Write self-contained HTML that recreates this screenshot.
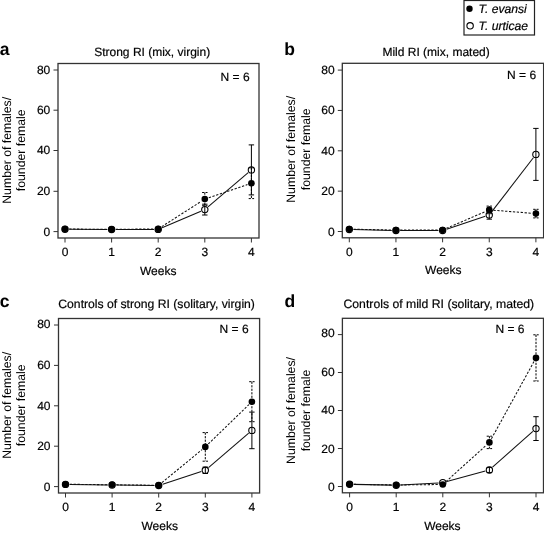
<!DOCTYPE html>
<html><head><meta charset="utf-8"><style>
html,body{margin:0;padding:0;background:#fff;width:544px;height:533px;overflow:hidden}
svg{display:block;will-change:transform}
text{font-family:"Liberation Sans",sans-serif;text-rendering:geometricPrecision;stroke:#000;stroke-width:0.2px}
</style></head><body>
<svg width="544" height="533" viewBox="0 0 544 533" font-family="'Liberation Sans', sans-serif" fill="#000">
<rect x="58" y="63.5" width="201" height="174.5" fill="none" stroke="#333" stroke-width="1.3"/>
<line x1="53.5" y1="231.6" x2="58" y2="231.6" stroke="#333" stroke-width="1"/>
<text x="50.3" y="236" font-size="12" text-anchor="end">0</text>
<line x1="53.5" y1="191.3" x2="58" y2="191.3" stroke="#333" stroke-width="1"/>
<text x="50.3" y="195" font-size="12" text-anchor="end">20</text>
<line x1="53.5" y1="150.5" x2="58" y2="150.5" stroke="#333" stroke-width="1"/>
<text x="50.3" y="154" font-size="12" text-anchor="end">40</text>
<line x1="53.5" y1="110.2" x2="58" y2="110.2" stroke="#333" stroke-width="1"/>
<text x="50.3" y="114" font-size="12" text-anchor="end">60</text>
<line x1="53.5" y1="70" x2="58" y2="70" stroke="#333" stroke-width="1"/>
<text x="50.3" y="74" font-size="12" text-anchor="end">80</text>
<line x1="65" y1="238" x2="65" y2="242.5" stroke="#333" stroke-width="1"/>
<text x="65" y="255.6" font-size="12" text-anchor="middle">0</text>
<line x1="111.6" y1="238" x2="111.6" y2="242.5" stroke="#333" stroke-width="1"/>
<text x="111.6" y="255.6" font-size="12" text-anchor="middle">1</text>
<line x1="158.2" y1="238" x2="158.2" y2="242.5" stroke="#333" stroke-width="1"/>
<text x="158.2" y="255.6" font-size="12" text-anchor="middle">2</text>
<line x1="204.8" y1="238" x2="204.8" y2="242.5" stroke="#333" stroke-width="1"/>
<text x="204.8" y="255.6" font-size="12" text-anchor="middle">3</text>
<line x1="251.4" y1="238" x2="251.4" y2="242.5" stroke="#333" stroke-width="1"/>
<text x="251.4" y="255.6" font-size="12" text-anchor="middle">4</text>
<text x="158.2" y="274.7" font-size="12" text-anchor="middle">Weeks</text>
<text x="94.2" y="55.6" font-size="12">Strong RI (mix, virgin)</text>
<text x="-0.3" y="54.6" font-size="17.5" font-weight="bold" style="stroke-width:0">a</text>
<text x="220.6" y="81" font-size="12">N = 6</text>
<text transform="translate(10.9,150.3) rotate(-90)" font-size="12.25" text-anchor="middle" style="stroke-width:0"><tspan x="0" y="0">Number of females/</tspan><tspan x="0" y="14.6">founder female</tspan></text>
<line x1="69.2" y1="229.23" x2="107.4" y2="229.47" stroke="#111" stroke-width="1.05"/>
<line x1="115.8" y1="229.49" x2="154" y2="229.41" stroke="#111" stroke-width="1.05"/>
<line x1="162.07" y1="227.76" x2="200.93" y2="211.24" stroke="#111" stroke-width="1.05"/>
<line x1="208" y1="206.88" x2="248.2" y2="172.62" stroke="#111" stroke-width="1.05"/>
<line x1="204.8" y1="204.2" x2="204.8" y2="215" stroke="#000" stroke-width="1"/>
<line x1="202.1" y1="204.2" x2="207.5" y2="204.2" stroke="#000" stroke-width="1"/>
<line x1="202.1" y1="215" x2="207.5" y2="215" stroke="#000" stroke-width="1"/>
<line x1="251.4" y1="144.9" x2="251.4" y2="194.9" stroke="#000" stroke-width="1"/>
<line x1="248.7" y1="144.9" x2="254.1" y2="144.9" stroke="#000" stroke-width="1"/>
<line x1="248.7" y1="194.9" x2="254.1" y2="194.9" stroke="#000" stroke-width="1"/>
<circle cx="65" cy="229.2" r="3.15" fill="none" stroke="#000" stroke-width="1.1"/>
<circle cx="111.6" cy="229.5" r="3.15" fill="none" stroke="#000" stroke-width="1.1"/>
<circle cx="158.2" cy="229.4" r="3.15" fill="none" stroke="#000" stroke-width="1.1"/>
<circle cx="204.8" cy="209.6" r="3.15" fill="none" stroke="#000" stroke-width="1.1"/>
<circle cx="251.4" cy="169.9" r="3.15" fill="none" stroke="#000" stroke-width="1.1"/>
<line x1="69.2" y1="229.04" x2="107.4" y2="229.36" stroke="#111" stroke-width="1.05" stroke-dasharray="2.3,1.6"/>
<line x1="115.8" y1="229.35" x2="154" y2="228.95" stroke="#111" stroke-width="1.05" stroke-dasharray="2.3,1.6"/>
<line x1="161.74" y1="226.64" x2="201.26" y2="201.36" stroke="#111" stroke-width="1.05" stroke-dasharray="2.3,1.6"/>
<line x1="208.77" y1="197.74" x2="247.43" y2="184.56" stroke="#111" stroke-width="1.05" stroke-dasharray="2.3,1.6"/>
<line x1="204.8" y1="192.5" x2="204.8" y2="205.7" stroke="#000" stroke-width="1" stroke-dasharray="2.2,1.3"/>
<line x1="202.1" y1="192.5" x2="207.5" y2="192.5" stroke="#000" stroke-width="1" stroke-dasharray="2.2,1.3"/>
<line x1="202.1" y1="205.7" x2="207.5" y2="205.7" stroke="#000" stroke-width="1" stroke-dasharray="2.2,1.3"/>
<line x1="251.4" y1="167.8" x2="251.4" y2="198.6" stroke="#000" stroke-width="1" stroke-dasharray="2.2,1.3"/>
<line x1="248.7" y1="167.8" x2="254.1" y2="167.8" stroke="#000" stroke-width="1" stroke-dasharray="2.2,1.3"/>
<line x1="248.7" y1="198.6" x2="254.1" y2="198.6" stroke="#000" stroke-width="1" stroke-dasharray="2.2,1.3"/>
<circle cx="65" cy="229" r="3.3" fill="#000"/>
<circle cx="111.6" cy="229.4" r="3.3" fill="#000"/>
<circle cx="158.2" cy="228.9" r="3.3" fill="#000"/>
<circle cx="204.8" cy="199.1" r="3.3" fill="#000"/>
<circle cx="251.4" cy="183.2" r="3.3" fill="#000"/>
<rect x="342.3" y="63.3" width="201.3" height="174.5" fill="none" stroke="#333" stroke-width="1.3"/>
<line x1="337.8" y1="231.5" x2="342.3" y2="231.5" stroke="#333" stroke-width="1"/>
<text x="334.6" y="236" font-size="12" text-anchor="end">0</text>
<line x1="337.8" y1="191.15" x2="342.3" y2="191.15" stroke="#333" stroke-width="1"/>
<text x="334.6" y="195" font-size="12" text-anchor="end">20</text>
<line x1="337.8" y1="150.8" x2="342.3" y2="150.8" stroke="#333" stroke-width="1"/>
<text x="334.6" y="155" font-size="12" text-anchor="end">40</text>
<line x1="337.8" y1="110.45" x2="342.3" y2="110.45" stroke="#333" stroke-width="1"/>
<text x="334.6" y="114" font-size="12" text-anchor="end">60</text>
<line x1="337.8" y1="70.1" x2="342.3" y2="70.1" stroke="#333" stroke-width="1"/>
<text x="334.6" y="74" font-size="12" text-anchor="end">80</text>
<line x1="349.3" y1="237.8" x2="349.3" y2="242.3" stroke="#333" stroke-width="1"/>
<text x="349.3" y="255.6" font-size="12" text-anchor="middle">0</text>
<line x1="395.95" y1="237.8" x2="395.95" y2="242.3" stroke="#333" stroke-width="1"/>
<text x="395.95" y="255.6" font-size="12" text-anchor="middle">1</text>
<line x1="442.6" y1="237.8" x2="442.6" y2="242.3" stroke="#333" stroke-width="1"/>
<text x="442.6" y="255.6" font-size="12" text-anchor="middle">2</text>
<line x1="489.25" y1="237.8" x2="489.25" y2="242.3" stroke="#333" stroke-width="1"/>
<text x="489.25" y="255.6" font-size="12" text-anchor="middle">3</text>
<line x1="535.9" y1="237.8" x2="535.9" y2="242.3" stroke="#333" stroke-width="1"/>
<text x="535.9" y="255.6" font-size="12" text-anchor="middle">4</text>
<text x="443.3" y="274.3" font-size="12" text-anchor="middle">Weeks</text>
<text x="382.4" y="55.5" font-size="12">Mild RI (mix, mated)</text>
<text x="284.2" y="54.6" font-size="17.5" font-weight="bold" style="stroke-width:0">b</text>
<text x="507.1" y="79.4" font-size="12">N = 6</text>
<text transform="translate(295.2,149.3) rotate(-90)" font-size="12.25" text-anchor="middle" style="stroke-width:0"><tspan x="0" y="0">Number of females/</tspan><tspan x="0" y="14.6">founder female</tspan></text>
<line x1="353.5" y1="229.59" x2="391.75" y2="230.41" stroke="#111" stroke-width="1.05"/>
<line x1="400.15" y1="230.5" x2="438.4" y2="230.5" stroke="#111" stroke-width="1.05"/>
<line x1="446.59" y1="229.18" x2="485.26" y2="216.32" stroke="#111" stroke-width="1.05"/>
<line x1="491.81" y1="211.67" x2="533.34" y2="157.73" stroke="#111" stroke-width="1.05"/>
<line x1="489.25" y1="210.8" x2="489.25" y2="219.2" stroke="#000" stroke-width="1"/>
<line x1="486.55" y1="210.8" x2="491.95" y2="210.8" stroke="#000" stroke-width="1"/>
<line x1="486.55" y1="219.2" x2="491.95" y2="219.2" stroke="#000" stroke-width="1"/>
<line x1="535.9" y1="128.4" x2="535.9" y2="180.4" stroke="#000" stroke-width="1"/>
<line x1="533.2" y1="128.4" x2="538.6" y2="128.4" stroke="#000" stroke-width="1"/>
<line x1="533.2" y1="180.4" x2="538.6" y2="180.4" stroke="#000" stroke-width="1"/>
<circle cx="349.3" cy="229.5" r="3.15" fill="none" stroke="#000" stroke-width="1.1"/>
<circle cx="395.95" cy="230.5" r="3.15" fill="none" stroke="#000" stroke-width="1.1"/>
<circle cx="442.6" cy="230.5" r="3.15" fill="none" stroke="#000" stroke-width="1.1"/>
<circle cx="489.25" cy="215" r="3.15" fill="none" stroke="#000" stroke-width="1.1"/>
<circle cx="535.9" cy="154.4" r="3.15" fill="none" stroke="#000" stroke-width="1.1"/>
<line x1="353.5" y1="229.19" x2="391.75" y2="230.01" stroke="#111" stroke-width="1.05" stroke-dasharray="2.3,1.6"/>
<line x1="400.15" y1="230.09" x2="438.4" y2="230.01" stroke="#111" stroke-width="1.05" stroke-dasharray="2.3,1.6"/>
<line x1="446.46" y1="228.34" x2="485.39" y2="211.56" stroke="#111" stroke-width="1.05" stroke-dasharray="2.3,1.6"/>
<line x1="493.44" y1="210.23" x2="531.71" y2="213.27" stroke="#111" stroke-width="1.05" stroke-dasharray="2.3,1.6"/>
<line x1="489.25" y1="206.1" x2="489.25" y2="213.7" stroke="#000" stroke-width="1" stroke-dasharray="2.2,1.3"/>
<line x1="486.55" y1="206.1" x2="491.95" y2="206.1" stroke="#000" stroke-width="1" stroke-dasharray="2.2,1.3"/>
<line x1="486.55" y1="213.7" x2="491.95" y2="213.7" stroke="#000" stroke-width="1" stroke-dasharray="2.2,1.3"/>
<line x1="535.9" y1="209.3" x2="535.9" y2="217.9" stroke="#000" stroke-width="1" stroke-dasharray="2.2,1.3"/>
<line x1="533.2" y1="209.3" x2="538.6" y2="209.3" stroke="#000" stroke-width="1" stroke-dasharray="2.2,1.3"/>
<line x1="533.2" y1="217.9" x2="538.6" y2="217.9" stroke="#000" stroke-width="1" stroke-dasharray="2.2,1.3"/>
<circle cx="349.3" cy="229.1" r="3.3" fill="#000"/>
<circle cx="395.95" cy="230.1" r="3.3" fill="#000"/>
<circle cx="442.6" cy="230" r="3.3" fill="#000"/>
<circle cx="489.25" cy="209.9" r="3.3" fill="#000"/>
<circle cx="535.9" cy="213.6" r="3.3" fill="#000"/>
<rect x="58.5" y="318.5" width="201.1" height="174.5" fill="none" stroke="#333" stroke-width="1.3"/>
<line x1="54" y1="486.6" x2="58.5" y2="486.6" stroke="#333" stroke-width="1"/>
<text x="50.5" y="491" font-size="12" text-anchor="end">0</text>
<line x1="54" y1="446.2" x2="58.5" y2="446.2" stroke="#333" stroke-width="1"/>
<text x="50.5" y="450" font-size="12" text-anchor="end">20</text>
<line x1="54" y1="405.8" x2="58.5" y2="405.8" stroke="#333" stroke-width="1"/>
<text x="50.5" y="410" font-size="12" text-anchor="end">40</text>
<line x1="54" y1="365.4" x2="58.5" y2="365.4" stroke="#333" stroke-width="1"/>
<text x="50.5" y="369" font-size="12" text-anchor="end">60</text>
<line x1="54" y1="325" x2="58.5" y2="325" stroke="#333" stroke-width="1"/>
<text x="50.5" y="328" font-size="12" text-anchor="end">80</text>
<line x1="65.5" y1="493" x2="65.5" y2="497.5" stroke="#333" stroke-width="1"/>
<text x="65.5" y="510.7" font-size="12" text-anchor="middle">0</text>
<line x1="112.1" y1="493" x2="112.1" y2="497.5" stroke="#333" stroke-width="1"/>
<text x="112.1" y="510.7" font-size="12" text-anchor="middle">1</text>
<line x1="158.7" y1="493" x2="158.7" y2="497.5" stroke="#333" stroke-width="1"/>
<text x="158.7" y="510.7" font-size="12" text-anchor="middle">2</text>
<line x1="205.3" y1="493" x2="205.3" y2="497.5" stroke="#333" stroke-width="1"/>
<text x="205.3" y="510.7" font-size="12" text-anchor="middle">3</text>
<line x1="251.9" y1="493" x2="251.9" y2="497.5" stroke="#333" stroke-width="1"/>
<text x="251.9" y="510.7" font-size="12" text-anchor="middle">4</text>
<text x="159.7" y="529.7" font-size="12" text-anchor="middle">Weeks</text>
<text x="58.3" y="307.8" font-size="12.18">Controls of strong RI (solitary, virgin)</text>
<text x="-0.3" y="306.6" font-size="17.5" font-weight="bold" style="stroke-width:0">c</text>
<text x="219.6" y="333.4" font-size="12">N = 6</text>
<text transform="translate(10.9,405.3) rotate(-90)" font-size="12.25" text-anchor="middle" style="stroke-width:0"><tspan x="0" y="0">Number of females/</tspan><tspan x="0" y="14.6">founder female</tspan></text>
<line x1="69.7" y1="484.45" x2="107.9" y2="484.95" stroke="#111" stroke-width="1.05"/>
<line x1="116.3" y1="485.05" x2="154.5" y2="485.45" stroke="#111" stroke-width="1.05"/>
<line x1="162.69" y1="484.2" x2="201.31" y2="471.6" stroke="#111" stroke-width="1.05"/>
<line x1="208.49" y1="467.57" x2="248.71" y2="433.13" stroke="#111" stroke-width="1.05"/>
<line x1="205.3" y1="467.1" x2="205.3" y2="473.5" stroke="#000" stroke-width="1"/>
<line x1="202.6" y1="467.1" x2="208" y2="467.1" stroke="#000" stroke-width="1"/>
<line x1="202.6" y1="473.5" x2="208" y2="473.5" stroke="#000" stroke-width="1"/>
<line x1="251.9" y1="412.1" x2="251.9" y2="448.7" stroke="#000" stroke-width="1"/>
<line x1="249.2" y1="412.1" x2="254.6" y2="412.1" stroke="#000" stroke-width="1"/>
<line x1="249.2" y1="448.7" x2="254.6" y2="448.7" stroke="#000" stroke-width="1"/>
<circle cx="65.5" cy="484.4" r="3.15" fill="none" stroke="#000" stroke-width="1.1"/>
<circle cx="112.1" cy="485" r="3.15" fill="none" stroke="#000" stroke-width="1.1"/>
<circle cx="158.7" cy="485.5" r="3.15" fill="none" stroke="#000" stroke-width="1.1"/>
<circle cx="205.3" cy="470.3" r="3.15" fill="none" stroke="#000" stroke-width="1.1"/>
<circle cx="251.9" cy="430.4" r="3.15" fill="none" stroke="#000" stroke-width="1.1"/>
<line x1="69.7" y1="484.25" x2="107.9" y2="484.75" stroke="#111" stroke-width="1.05" stroke-dasharray="2.3,1.6"/>
<line x1="116.3" y1="484.85" x2="154.5" y2="485.25" stroke="#111" stroke-width="1.05" stroke-dasharray="2.3,1.6"/>
<line x1="161.94" y1="482.63" x2="202.06" y2="449.57" stroke="#111" stroke-width="1.05" stroke-dasharray="2.3,1.6"/>
<line x1="208.31" y1="443.98" x2="248.89" y2="404.62" stroke="#111" stroke-width="1.05" stroke-dasharray="2.3,1.6"/>
<line x1="205.3" y1="432.6" x2="205.3" y2="461.2" stroke="#000" stroke-width="1" stroke-dasharray="2.2,1.3"/>
<line x1="202.6" y1="432.6" x2="208" y2="432.6" stroke="#000" stroke-width="1" stroke-dasharray="2.2,1.3"/>
<line x1="202.6" y1="461.2" x2="208" y2="461.2" stroke="#000" stroke-width="1" stroke-dasharray="2.2,1.3"/>
<line x1="251.9" y1="381.7" x2="251.9" y2="421.7" stroke="#000" stroke-width="1" stroke-dasharray="2.2,1.3"/>
<line x1="249.2" y1="381.7" x2="254.6" y2="381.7" stroke="#000" stroke-width="1" stroke-dasharray="2.2,1.3"/>
<line x1="249.2" y1="421.7" x2="254.6" y2="421.7" stroke="#000" stroke-width="1" stroke-dasharray="2.2,1.3"/>
<circle cx="65.5" cy="484.2" r="3.3" fill="#000"/>
<circle cx="112.1" cy="484.8" r="3.3" fill="#000"/>
<circle cx="158.7" cy="485.3" r="3.3" fill="#000"/>
<circle cx="205.3" cy="446.9" r="3.3" fill="#000"/>
<circle cx="251.9" cy="401.7" r="3.3" fill="#000"/>
<rect x="342.4" y="318.3" width="201.1" height="174.5" fill="none" stroke="#333" stroke-width="1.3"/>
<line x1="337.9" y1="486.5" x2="342.4" y2="486.5" stroke="#333" stroke-width="1"/>
<text x="334.6" y="491" font-size="12" text-anchor="end">0</text>
<line x1="337.9" y1="448.5" x2="342.4" y2="448.5" stroke="#333" stroke-width="1"/>
<text x="334.6" y="453" font-size="12" text-anchor="end">20</text>
<line x1="337.9" y1="410.5" x2="342.4" y2="410.5" stroke="#333" stroke-width="1"/>
<text x="334.6" y="414" font-size="12" text-anchor="end">40</text>
<line x1="337.9" y1="372.5" x2="342.4" y2="372.5" stroke="#333" stroke-width="1"/>
<text x="334.6" y="376" font-size="12" text-anchor="end">60</text>
<line x1="337.9" y1="334.6" x2="342.4" y2="334.6" stroke="#333" stroke-width="1"/>
<text x="334.6" y="337" font-size="12" text-anchor="end">80</text>
<line x1="349.6" y1="492.8" x2="349.6" y2="497.3" stroke="#333" stroke-width="1"/>
<text x="349.6" y="510.7" font-size="12" text-anchor="middle">0</text>
<line x1="396.2" y1="492.8" x2="396.2" y2="497.3" stroke="#333" stroke-width="1"/>
<text x="396.2" y="510.7" font-size="12" text-anchor="middle">1</text>
<line x1="442.8" y1="492.8" x2="442.8" y2="497.3" stroke="#333" stroke-width="1"/>
<text x="442.8" y="510.7" font-size="12" text-anchor="middle">2</text>
<line x1="489.4" y1="492.8" x2="489.4" y2="497.3" stroke="#333" stroke-width="1"/>
<text x="489.4" y="510.7" font-size="12" text-anchor="middle">3</text>
<line x1="536" y1="492.8" x2="536" y2="497.3" stroke="#333" stroke-width="1"/>
<text x="536" y="510.7" font-size="12" text-anchor="middle">4</text>
<text x="442.4" y="529.7" font-size="12" text-anchor="middle">Weeks</text>
<text x="343.5" y="307.9" font-size="12.22">Controls of mild RI (solitary, mated)</text>
<text x="284.4" y="306.6" font-size="17.5" font-weight="bold" style="stroke-width:0">d</text>
<text x="495.4" y="333.4" font-size="12">N = 6</text>
<text transform="translate(295.2,410.5) rotate(-90)" font-size="12.25" text-anchor="middle" style="stroke-width:0"><tspan x="0" y="0">Number of females/</tspan><tspan x="0" y="14.6">founder female</tspan></text>
<line x1="353.8" y1="484.38" x2="392" y2="485.12" stroke="#111" stroke-width="1.05"/>
<line x1="400.39" y1="484.98" x2="438.61" y2="482.92" stroke="#111" stroke-width="1.05"/>
<line x1="446.85" y1="481.6" x2="485.35" y2="471.1" stroke="#111" stroke-width="1.05"/>
<line x1="492.54" y1="467.21" x2="532.86" y2="431.39" stroke="#111" stroke-width="1.05"/>
<line x1="489.4" y1="467.4" x2="489.4" y2="472.6" stroke="#000" stroke-width="1"/>
<line x1="486.7" y1="467.4" x2="492.1" y2="467.4" stroke="#000" stroke-width="1"/>
<line x1="486.7" y1="472.6" x2="492.1" y2="472.6" stroke="#000" stroke-width="1"/>
<line x1="536" y1="416.7" x2="536" y2="440.5" stroke="#000" stroke-width="1"/>
<line x1="533.3" y1="416.7" x2="538.7" y2="416.7" stroke="#000" stroke-width="1"/>
<line x1="533.3" y1="440.5" x2="538.7" y2="440.5" stroke="#000" stroke-width="1"/>
<circle cx="349.6" cy="484.3" r="3.15" fill="none" stroke="#000" stroke-width="1.1"/>
<circle cx="396.2" cy="485.2" r="3.15" fill="none" stroke="#000" stroke-width="1.1"/>
<circle cx="442.8" cy="482.7" r="3.15" fill="none" stroke="#000" stroke-width="1.1"/>
<circle cx="489.4" cy="470" r="3.15" fill="none" stroke="#000" stroke-width="1.1"/>
<circle cx="536" cy="428.6" r="3.15" fill="none" stroke="#000" stroke-width="1.1"/>
<line x1="353.8" y1="484.36" x2="392" y2="484.94" stroke="#111" stroke-width="1.05" stroke-dasharray="2.3,1.6"/>
<line x1="400.4" y1="484.95" x2="438.6" y2="484.55" stroke="#111" stroke-width="1.05" stroke-dasharray="2.3,1.6"/>
<line x1="445.92" y1="481.68" x2="486.28" y2="445.22" stroke="#111" stroke-width="1.05" stroke-dasharray="2.3,1.6"/>
<line x1="491.43" y1="438.72" x2="533.97" y2="361.58" stroke="#111" stroke-width="1.05" stroke-dasharray="2.3,1.6"/>
<line x1="489.4" y1="436.2" x2="489.4" y2="448.6" stroke="#000" stroke-width="1" stroke-dasharray="2.2,1.3"/>
<line x1="486.7" y1="436.2" x2="492.1" y2="436.2" stroke="#000" stroke-width="1" stroke-dasharray="2.2,1.3"/>
<line x1="486.7" y1="448.6" x2="492.1" y2="448.6" stroke="#000" stroke-width="1" stroke-dasharray="2.2,1.3"/>
<line x1="536" y1="334.8" x2="536" y2="381" stroke="#000" stroke-width="1" stroke-dasharray="2.2,1.3"/>
<line x1="533.3" y1="334.8" x2="538.7" y2="334.8" stroke="#000" stroke-width="1" stroke-dasharray="2.2,1.3"/>
<line x1="533.3" y1="381" x2="538.7" y2="381" stroke="#000" stroke-width="1" stroke-dasharray="2.2,1.3"/>
<circle cx="349.6" cy="484.3" r="3.3" fill="#000"/>
<circle cx="396.2" cy="485" r="3.3" fill="#000"/>
<circle cx="442.8" cy="484.5" r="3.3" fill="#000"/>
<circle cx="489.4" cy="442.4" r="3.3" fill="#000"/>
<circle cx="536" cy="357.9" r="3.3" fill="#000"/>
<rect x="464" y="0.5" width="70.5" height="34.5" fill="#fff" stroke="#222" stroke-width="1.2"/>
<circle cx="469.5" cy="8.7" r="3.2" fill="#000"/>
<circle cx="470.1" cy="25.8" r="3.2" fill="none" stroke="#000" stroke-width="1.1"/>
<text x="478.6" y="13.3" font-size="12.15" font-style="italic">T. evansi</text>
<text x="478.6" y="29.6" font-size="12.15" font-style="italic">T. urticae</text>
</svg>
</body></html>
